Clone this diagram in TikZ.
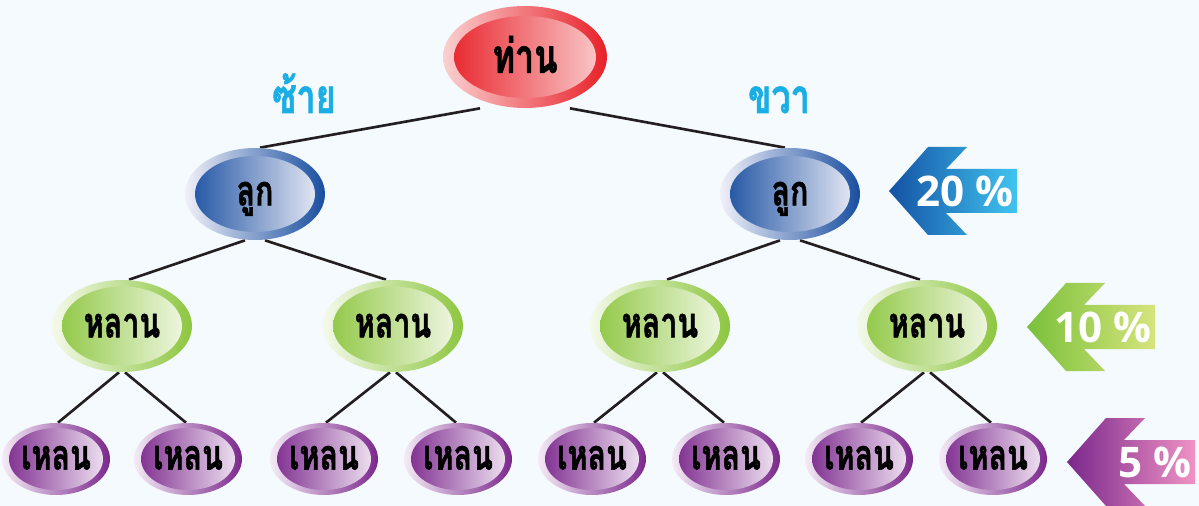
\documentclass[tikz,border=0pt]{standalone}
\usepackage{fontspec}
\newfontfamily\thaifont[Script=Thai, FakeStretch=0.72, FakeBold=1.2]{Loma}
\newfontfamily\pcfont{Open Sans}
\usepackage{tikz}
\usetikzlibrary{shapes,positioning,backgrounds}

\definecolor{bgblue}{RGB}{244,250,253}
\definecolor{reddark}{RGB}{232,32,40}
\definecolor{redlight}{RGB}{250,208,208}
\definecolor{bluedark}{RGB}{24,78,160}
\definecolor{bluelight}{RGB}{240,240,248}
\definecolor{greendark}{RGB}{141,198,63}
\definecolor{greenlight}{RGB}{244,249,234}
\definecolor{purpledark}{RGB}{123,40,140}
\definecolor{purplelight}{RGB}{244,234,246}
\definecolor{sidecyan}{RGB}{26,174,229}
\definecolor{arrowblue}{RGB}{20,82,164}
\definecolor{arrowcyan}{RGB}{64,196,240}
\definecolor{arrowgreen}{RGB}{122,192,60}
\definecolor{arrowlime}{RGB}{214,228,124}
\definecolor{arrowpurple}{RGB}{122,40,140}
\definecolor{arrowpink}{RGB}{240,146,196}
\definecolor{linkgray}{RGB}{35,31,32}

\tikzset{
  bubble/.style n args={6}{ellipse, minimum width=#1, minimum height=#2, inner sep=0pt,
    left color=#6, right color=#5,
    path picture={\shade[left color=#5, right color=#6] (path picture bounding box.center)
      ellipse [x radius=#1/2-#3, y radius=#2/2-#4];}},
  rootnode/.style={bubble={3.28cm}{2.04cm}{0.22cm}{0.2cm}{reddark}{redlight},
    text height=18pt, text depth=0pt, font=\thaifont\bfseries\fontsize{27}{32}\selectfont},
  kidnode/.style={bubble={2.8cm}{1.84cm}{0.2cm}{0.16cm}{bluedark}{bluelight},
    text height=13pt, text depth=0pt, font=\thaifont\bfseries\fontsize{24}{28}\selectfont},
  grandnode/.style={bubble={2.8cm}{1.84cm}{0.2cm}{0.13cm}{greendark}{greenlight},
    text height=13pt, text depth=0pt, font=\thaifont\bfseries\fontsize{24}{28}\selectfont},
  greatnode/.style={bubble={2.16cm}{1.44cm}{0.14cm}{0.1cm}{purpledark}{purplelight},
    text height=12pt, text depth=0pt, font=\thaifont\bfseries\fontsize{24}{28}\selectfont},
  sidelabel/.style={anchor=base, inner sep=0pt, text=sidecyan, font=\thaifont\bfseries\fontsize{27}{32}\selectfont},
  link/.style={draw=linkgray, line width=1.5pt},
  pclabel/.style={anchor=east, text=white, inner sep=0pt, font=\pcfont\bfseries\fontsize{24}{28}\selectfont}
}

\begin{document}
\begin{tikzpicture}[x=0.02cm,y=-0.02cm]
    \useasboundingbox (0,0) rectangle (1199,506);

    % Family tree
    \node[rootnode] (root) at (525,57) {ท่าน};
    \node[sidelabel] (left) at (304,113) {ซ้าย};
    \node[sidelabel] (right) at (779,113) {ขวา};

    \node[kidnode] (k1) at (255,194) {ลูก};
    \node[kidnode] (k2) at (790,194) {ลูก};

    \foreach \i/\x in {1/122, 2/393, 3/660, 4/927}
        \node[grandnode] (g\i) at (\x,326) {หลาน};

    \foreach \i/\x in {1/56, 2/188, 3/324, 4/458, 5/592, 6/726, 7/859, 8/993}
        \node[greatnode] (gg\i) at (\x,459) {เหลน};

    % Shares
    \foreach \tx/\ty/\dk/\lt/\pc in {889/191/arrowblue/arrowcyan/20, 1027/327/arrowgreen/arrowlime/10, 1067/462/arrowpurple/arrowpink/5} {
        \shade[left color=\dk, right color=\lt] (\tx,\ty) -- ++(39,-44) -- ++(39,0) -- ++(-21,22)
            -- ++(71,0) -- ++(0,44) -- ++(-71,0) -- ++(21,22) -- ++(-39,0) -- cycle;
        \node[pclabel] (pc\pc) at (\tx+125,\ty) {\pc~\%};
    }

    % Lines and background
    \begin{scope}[on background layer]
        \fill[bgblue] (0,0) rectangle (1199,506);
        \foreach \c/\d in {k1/-1, k2/1}
            \draw[link] ([xshift=\d*0.9cm]root.south) -- ([xshift=-\d*0.1cm]\c.north);
        \foreach \p/\c/\d in {k1/g1/-1, k1/g2/1, k2/g3/-1, k2/g4/1}
            \draw[link] ([xshift=\d*0.2cm]\p.south) -- ([xshift=-\d*0.14cm]\c.north);
        \foreach \p/\c/\d in {g1/gg1/-1, g1/gg2/1, g2/gg3/-1, g2/gg4/1, g3/gg5/-1, g3/gg6/1, g4/gg7/-1, g4/gg8/1}
            \draw[link] ([xshift=\d*0.06cm]\p.south) -- ([xshift=-\d*0.04cm]\c.north);
    \end{scope}
\end{tikzpicture}
\end{document}
